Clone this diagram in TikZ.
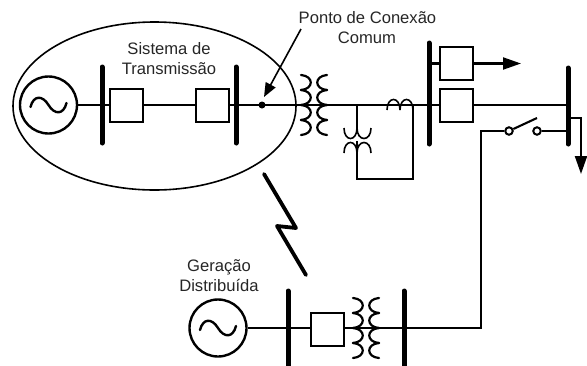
\documentclass[tikz,border=0pt]{standalone}
\usepackage{fontspec}
\setmainfont{Liberation Sans}
\usetikzlibrary{arrows.meta,shapes.geometric}
\tikzset{
  x=1pt,y=-1pt,
  wire/.style={line width=2.1pt,line cap=butt},
  thinw/.style={line width=1.6pt},
  busbar/.style={line width=5pt,line cap=round},
  boxn/.style={draw,line width=2pt,minimum width=33pt,minimum height=33pt,inner sep=0pt,fill=white},
  gen/.style={draw,circle,line width=2.4pt,minimum size=57pt,inner sep=0pt},
  lbl/.style={font=\fontsize{16.6}{18}\selectfont,anchor=base,inner sep=0pt,text=black!85},
  coil/.style={line width=2.2pt,line cap=round},
  bigarrow/.style={line width=2.1pt,-{Triangle[length=18pt,width=12pt]}},
  dotn/.style={circle,fill=black,minimum size=7pt,inner sep=0pt},
  contact/.style={circle,draw,fill=white,line width=2pt,minimum size=7.5pt,inner sep=0pt},
  pics/sinewave/.style={code={
    \draw[line width=2.4pt,line cap=round] (-18,2) .. controls (-15,-10) and (-6,-10) .. (0,0) .. controls (6,10) and (15,10) .. (18,-2);
  }},
  pics/xfmr/.style={code={
    \foreach \s in {-30,-15,0,15}{
      \draw[coil] (-13,\s) .. controls (0,\s+1) and (0,\s+14) .. (-13,\s+15);
      \draw[coil] (13,\s) .. controls (0,\s+1) and (0,\s+14) .. (13,\s+15);
    }
  }},
}
\begin{document}
\begin{tikzpicture}
\useasboundingbox (0,0) rectangle (587,365);
% ellipse
\node[draw,ellipse,line width=1.6pt,minimum width=283pt,minimum height=168pt,inner sep=0pt] (zone) at (154.5,106) {};
% nodes
\node[gen] (g1) at (48.5,105) {};
\pic at (48.5,105) {sinewave};
\node[gen] (g2) at (218,328) {};
\pic at (218,328) {sinewave};
\coordinate (b1t) at (102,67); \coordinate (b1b) at (102,143);
\coordinate (b2t) at (236,67); \coordinate (b2b) at (236,143);
\coordinate (b3t) at (429,43); \coordinate (b3b) at (429,144);
\coordinate (b4t) at (568,68); \coordinate (b4b) at (568,144);
\coordinate (b5t) at (288,291); \coordinate (b5b) at (288,368);
\coordinate (b6t) at (404,291); \coordinate (b6b) at (404,368);
\coordinate (j1) at (102,105);
\coordinate (j2) at (236,105);
\coordinate (j3) at (429,105);
\coordinate (j4) at (568,105);
\coordinate (j5) at (288,328);
\coordinate (j6) at (404,328);
\coordinate (t1l) at (301,105);
\coordinate (t1r) at (327,105);
\coordinate (t2l) at (353,328);
\coordinate (t2r) at (379,328);
% wires
\draw[wire] (g1.east) -- (j1);
\draw[wire] (j1) -- (j2) -- (t1l);
\draw[wire] (t1l) -- (t1r) -- (j3);
\draw[wire] (j3) -- (j4);
\draw[wire] (g2.east) -- (j5) -- (t2l);
\draw[wire] (t2l) -- (t2r) -- (j6);
\foreach \a/\b in {b1t/b1b,b2t/b2b,b3t/b3b,b4t/b4b,b5t/b5b,b6t/b6b}{\draw[busbar] (\a) -- (\b);}
% boxes
\node[boxn] (k1) at (126,105) {};
\node[boxn] (k2) at (212,105) {};
\node[boxn] (k3) at (456.5,63.5) {};
\node[boxn] (k4) at (456.5,105) {};
\node[boxn] (k5) at (327,329) {};
% transformers
\pic at (314,105) {xfmr};
\pic at (366,328) {xfmr};
% series inductor and shunt transformer
\draw[thinw] (387,110) .. controls (387,96) and (400,96) .. (400,110);
\draw[thinw] (400,110) .. controls (400,96) and (413,96) .. (413,110);
\draw[thinw] (344,128) .. controls (344,142) and (357,142) .. (357,128);
\draw[thinw] (357,128) .. controls (357,142) and (371,142) .. (371,128);
\draw[thinw] (344,153) .. controls (344,139) and (357,139) .. (357,153);
\draw[thinw] (357,153) .. controls (357,139) and (371,139) .. (371,153);
\draw[thinw] (357,105) -- (357,128);
\draw[thinw] (357,141) -- (357,179) -- (413,179) -- (413,105);
% dot and arrow
\node[dotn] (pcc) at (262,105) {};
\coordinate (pccs) at (301,29);
\draw[thinw,-{Triangle[length=14pt,width=11pt]}] (pccs) -- (264,97);
% outgoing
\coordinate (l3) at (429,63.5);
\coordinate (a3) at (521,63.5);
\draw[wire] (l3) -- (k3.west);
\draw[bigarrow] (k3.east) -- (a3);
\coordinate (l4) at (568,118);
\coordinate (c4) at (581,118);
\coordinate (a4) at (581,174);
\draw[bigarrow] (l4) -- (c4) -- (a4);
% switch
\node[contact] (s1) at (509,131) {};
\node[contact] (s2) at (537,131) {};
\coordinate (s3) at (568,131);
\coordinate (s0) at (481,131);
\coordinate (bl) at (537,118);
\draw[wire] (j6) -- (481,328) -- (s0) -- (s1);
\draw[wire] (s2) -- (s3);
\draw[wire] (s1) -- (bl);
% lightning
\coordinate (z1) at (264,174);
\coordinate (z2) at (296,228);
\coordinate (z3) at (277,226);
\coordinate (z4) at (306,275);
\draw[line width=3.8pt,line cap=round,line join=round] (z1) -- (z2) -- (z3) -- (z4);
% labels
\node[lbl] (t1) at (169,54) {Sistema de};
\node[lbl] (t2) at (169,74) {Transmissão};
\node[lbl] (t3) at (367.5,23) {Ponto de Conexão};
\node[lbl] (t4) at (367,43) {Comum};
\node[lbl] (t5) at (219,271) {Geração};
\node[lbl] (t6) at (219,291) {Distribuída};
\end{tikzpicture}
\end{document}
